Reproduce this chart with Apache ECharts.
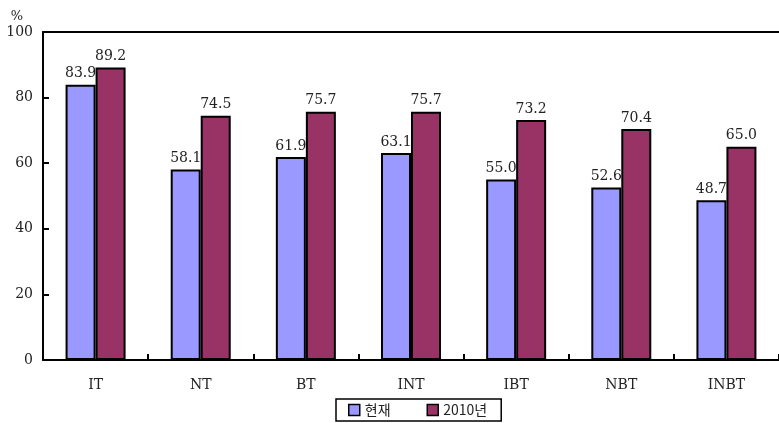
<!DOCTYPE html>
<html>
<head>
<meta charset="utf-8">
<script src="https://cdn.jsdelivr.net/npm/echarts@6/dist/echarts.min.js"></script>
<style>
  html, body { margin: 0; padding: 0; background: #fff; }
  #chart { width: 779px; height: 423px; }
</style>
</head>
<body>
<div id="chart"></div>
<script>
  // 데이터
  var categories = ['IT', 'NT', 'BT', 'INT', 'IBT', 'NBT', 'INBT'];
  var nowValues = [83.9, 58.1, 61.9, 63.1, 55.0, 52.6, 48.7];
  var futureValues = [89.2, 74.5, 75.7, 75.7, 73.2, 70.4, 65.0];
  var seriesNames = ['현재', '2010년'];

  var serifFont = '"DejaVu Serif", "Liberation Serif", "Noto Sans CJK KR", serif';

  var myChart = echarts.init(document.getElementById('chart'));

  var barLabel = {
    show: true,
    position: 'top',
    distance: 4,
    color: '#222',
    fontFamily: serifFont,
    fontSize: 14,
    formatter: function (p) { return p.value.toFixed(1); }
  };

  var option = {
    animation: false,
    grid: { left: 43, right: -6, top: 32, bottom: 63 },
    legend: {
      left: 336,
      top: 399,
      itemWidth: 11,
      itemHeight: 11,
      itemGap: 36,
      icon: 'rect',
      padding: [4, 14, 4, 12],
      borderColor: '#000',
      borderWidth: 1.5,
      textStyle: { fontFamily: '"Noto Sans CJK KR", serif', fontSize: 14, color: '#222' },
      data: seriesNames.map(function (n) {
        return { name: n, itemStyle: { borderColor: '#000', borderWidth: 1.5 } };
      })
    },
    xAxis: [
      {
        type: 'category',
        data: categories,
        axisLine: { lineStyle: { color: '#000', width: 2 } },
        axisTick: { show: true, inside: true, length: 6, lineStyle: { color: '#000', width: 2 } },
        axisLabel: { margin: 18, color: '#222', fontFamily: serifFont, fontSize: 14 }
      },
      {
        type: 'category',
        position: 'top',
        data: categories,
        axisLine: { lineStyle: { color: '#000', width: 2 } },
        axisTick: { show: false },
        axisLabel: { show: false }
      }
    ],
    yAxis: {
      type: 'value',
      min: 0,
      max: 100,
      interval: 20,
      name: '%',
      nameGap: 9,
      nameLocation: 'end',
      nameTextStyle: { color: '#222', fontFamily: serifFont, fontSize: 13, align: 'right', padding: [0, 20, 0, 0] },
      axisLine: { show: true, lineStyle: { color: '#000', width: 2 } },
      axisTick: { show: true, inside: true, length: 6, lineStyle: { color: '#000', width: 2 } },
      axisLabel: { margin: 10, color: '#222', fontFamily: serifFont, fontSize: 14 },
      splitLine: { show: false }
    },
    series: [
      {
        name: seriesNames[0],
        type: 'bar',
        data: nowValues,
        barWidth: 30,
        barGap: '0%',
        z: 1,
        itemStyle: { color: '#9999FF', borderColor: '#000', borderWidth: 2 },
        label: barLabel
      },
      {
        name: seriesNames[1],
        type: 'bar',
        data: futureValues,
        barWidth: 30,
        barGap: '0%',
        z: 1,
        itemStyle: { color: '#993366', borderColor: '#000', borderWidth: 2 },
        label: barLabel
      }
    ]
  };

  myChart.setOption(option);
</script>
</body>
</html>
